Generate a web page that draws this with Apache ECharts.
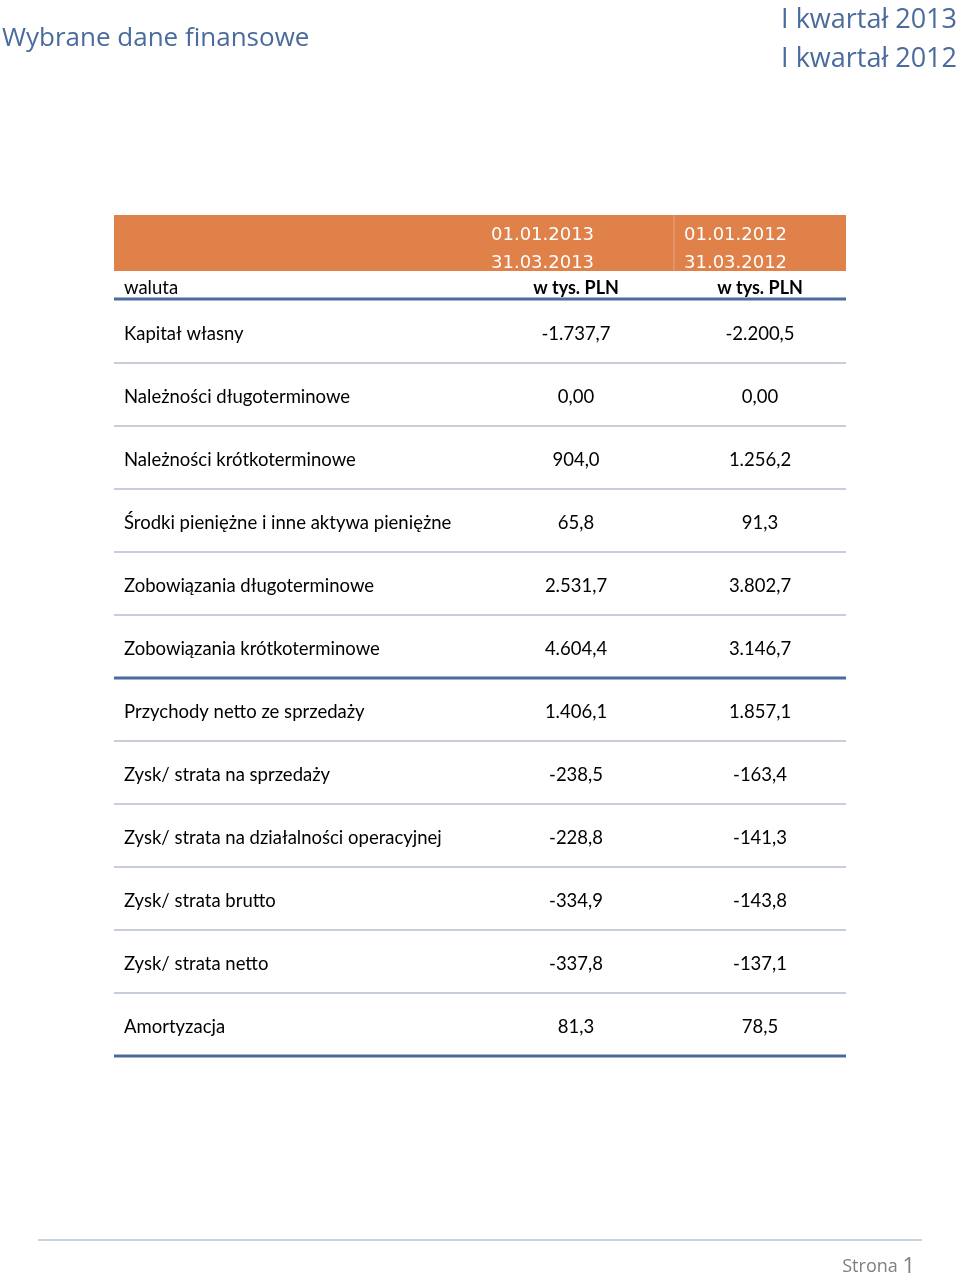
<!DOCTYPE html>
<html>
<head>
<meta charset="utf-8">
<title>Wybrane dane finansowe</title>
<script src="https://cdn.jsdelivr.net/npm/echarts@6/dist/echarts.min.js"></script>
<style>
  html, body { margin: 0; padding: 0; background: #fff; }
  #chart { width: 960px; height: 1275px; }
</style>
</head>
<body>
<div id="chart"></div>
<script>
// table content
const rowLabels = [
  'Kapitał własny',
  'Należności długoterminowe',
  'Należności krótkoterminowe',
  'Środki pieniężne i inne aktywa pieniężne',
  'Zobowiązania długoterminowe',
  'Zobowiązania krótkoterminowe',
  'Przychody netto ze sprzedaży',
  'Zysk/ strata na sprzedaży',
  'Zysk/ strata na działalności operacyjnej',
  'Zysk/ strata brutto',
  'Zysk/ strata netto',
  'Amortyzacja'
]
const values2013 = ['-1.737,7', '0,00', '904,0', '65,8', '2.531,7', '4.604,4', '1.406,1', '-238,5', '-228,8', '-334,9', '-337,8', '81,3']
const values2012 = ['-2.200,5', '0,00', '1.256,2', '91,3', '3.802,7', '3.146,7', '1.857,1', '-163,4', '-141,3', '-143,8', '-137,1', '78,5']
const periodStart = ['01.01.2013', '01.01.2012']
const periodEnd = ['31.03.2013', '31.03.2012']
const unitLabels = ['w tys. PLN', 'w tys. PLN']
const headerRows = ['start', 'end', 'unit']
const sectionEnds = [5, 11]

// column boundaries on the (hidden) x axis
const colEdges = [0, 364, 560, 732]

const BLUE = '#4a6b9c'
const THIN = '#8e9db3'
const ORANGE = '#df8148'
const BODY_FONT = 'Lato, "Noto Sans", sans-serif'
const HEAD_FONT = '"DejaVu Sans", Verdana, sans-serif'
const TITLE_FONT = '"Open Sans", sans-serif'

const chart = echarts.init(document.getElementById('chart'))

const colX = (api, idx, k) => api.coord([colEdges[k], idx])[0]
const colMid = (api, idx, k) => (colX(api, idx, k) + colX(api, idx, k + 1)) / 2

const renderHeader = (params, api) => {
  const idx = api.value(1)
  const y = api.coord([0, idx])[1]
  const rowH = api.size([0, 1])[1]
  const x0 = colX(api, idx, 0)
  const x1 = colX(api, idx, 1)
  const x2 = colX(api, idx, 2)
  const x3 = colX(api, idx, 3)
  const children = []
  if (idx === 0) {
    children.push({
      type: 'rect',
      shape: { x: x0, y: y - rowH / 2, width: x3 - x0, height: rowH * 2 },
      style: { fill: ORANGE }
    })
    children.push({
      type: 'line',
      shape: { x1: x2, y1: y - rowH / 2, x2: x2, y2: y + rowH * 1.5 },
      style: { stroke: 'rgba(255,255,255,0.3)', lineWidth: 1 }
    })
  }
  if (idx < 2) {
    const texts = idx === 0 ? periodStart : periodEnd
    ;[x1 + 13, x2 + 10].forEach((x, k) => {
      children.push({
        type: 'text',
        style: {
          x, y: y + 6, text: texts[k], fill: '#fff',
          font: '18px ' + HEAD_FONT, align: 'left', verticalAlign: 'middle'
        }
      })
    })
  } else {
    children.push({
      type: 'text',
      style: {
        x: x0 + 10, y: y + 3, text: 'waluta', fill: '#000',
        font: '18.5px ' + BODY_FONT, align: 'left', verticalAlign: 'middle'
      }
    })
    unitLabels.forEach((t, k) => {
      children.push({
        type: 'text',
        style: {
          x: colMid(api, idx, k + 1), y: y + 3, text: t, fill: '#000',
          font: 'bold 18px ' + BODY_FONT, align: 'center', verticalAlign: 'middle'
        }
      })
    })
    children.push({
      type: 'line',
      shape: { x1: x0, y1: y + rowH / 2, x2: x3, y2: y + rowH / 2 },
      style: { stroke: BLUE, lineWidth: 3 }
    })
  }
  return { type: 'group', children }
}

const renderBody = (params, api) => {
  const idx = api.value(1)
  const y = api.coord([0, idx])[1]
  const rowH = api.size([0, 1])[1]
  const x0 = colX(api, idx, 0)
  const x3 = colX(api, idx, 3)
  const thick = sectionEnds.includes(idx)
  const cell = (x, text, align) => ({
    type: 'text',
    style: { x, y: y + 2.5, text, fill: '#000', font: '18.5px ' + BODY_FONT, align, verticalAlign: 'middle' }
  })
  return {
    type: 'group',
    children: [
      cell(x0 + 10, rowLabels[idx], 'left'),
      cell(colMid(api, idx, 1), values2013[idx], 'center'),
      cell(colMid(api, idx, 2), values2012[idx], 'center'),
      {
        type: 'line',
        shape: { x1: x0, y1: y + rowH / 2, x2: x3, y2: y + rowH / 2 },
        style: { stroke: thick ? BLUE : THIN, lineWidth: thick ? 3 : 1 }
      }
    ]
  }
}

const option = {
  animation: false,
  backgroundColor: '#fff',
  title: [
    {
      text: 'Wybrane dane finansowe',
      left: 2,
      top: 26,
      padding: 0,
      textStyle: { fontFamily: TITLE_FONT, fontSize: 26, fontWeight: 'normal', color: BLUE }
    },
    {
      text: 'I kwartał 2013\nI kwartał 2012',
      right: 3,
      top: 1,
      padding: 0,
      textStyle: { fontFamily: TITLE_FONT, fontSize: 27, fontWeight: 'normal', color: BLUE, lineHeight: 39 }
    },
    {
      text: '{a|Strona }{b|1}',
      right: 45,
      top: 1256,
      padding: 0,
      textStyle: {
        rich: {
          a: { fontFamily: TITLE_FONT, fontSize: 18, fontWeight: 'normal', color: '#7f7f7f' },
          b: { fontFamily: TITLE_FONT, fontSize: 22, fontWeight: 'normal', color: '#7f7f7f' }
        }
      }
    }
  ],
  graphic: [
    {
      type: 'line',
      shape: { x1: 38, y1: 1240, x2: 922, y2: 1240 },
      style: { stroke: '#b9c6d2', lineWidth: 1.5 }
    }
  ],
  grid: [
    { left: 114, top: 215, width: 732, height: 84 },
    { left: 114, top: 300, width: 732, height: 756 }
  ],
  xAxis: [
    { type: 'value', gridIndex: 0, min: 0, max: colEdges[3], show: false },
    { type: 'value', gridIndex: 1, min: 0, max: colEdges[3], show: false }
  ],
  yAxis: [
    { type: 'category', gridIndex: 0, data: headerRows, inverse: true, show: false },
    { type: 'category', gridIndex: 1, data: rowLabels, inverse: true, show: false }
  ],
  series: [
    {
      type: 'custom',
      xAxisIndex: 0,
      yAxisIndex: 0,
      renderItem: renderHeader,
      data: headerRows.map((_, i) => [0, i]),
      silent: true
    },
    {
      type: 'custom',
      xAxisIndex: 1,
      yAxisIndex: 1,
      renderItem: renderBody,
      data: rowLabels.map((_, i) => [0, i]),
      silent: true
    }
  ]
}

chart.setOption(option)
</script>
</body>
</html>
